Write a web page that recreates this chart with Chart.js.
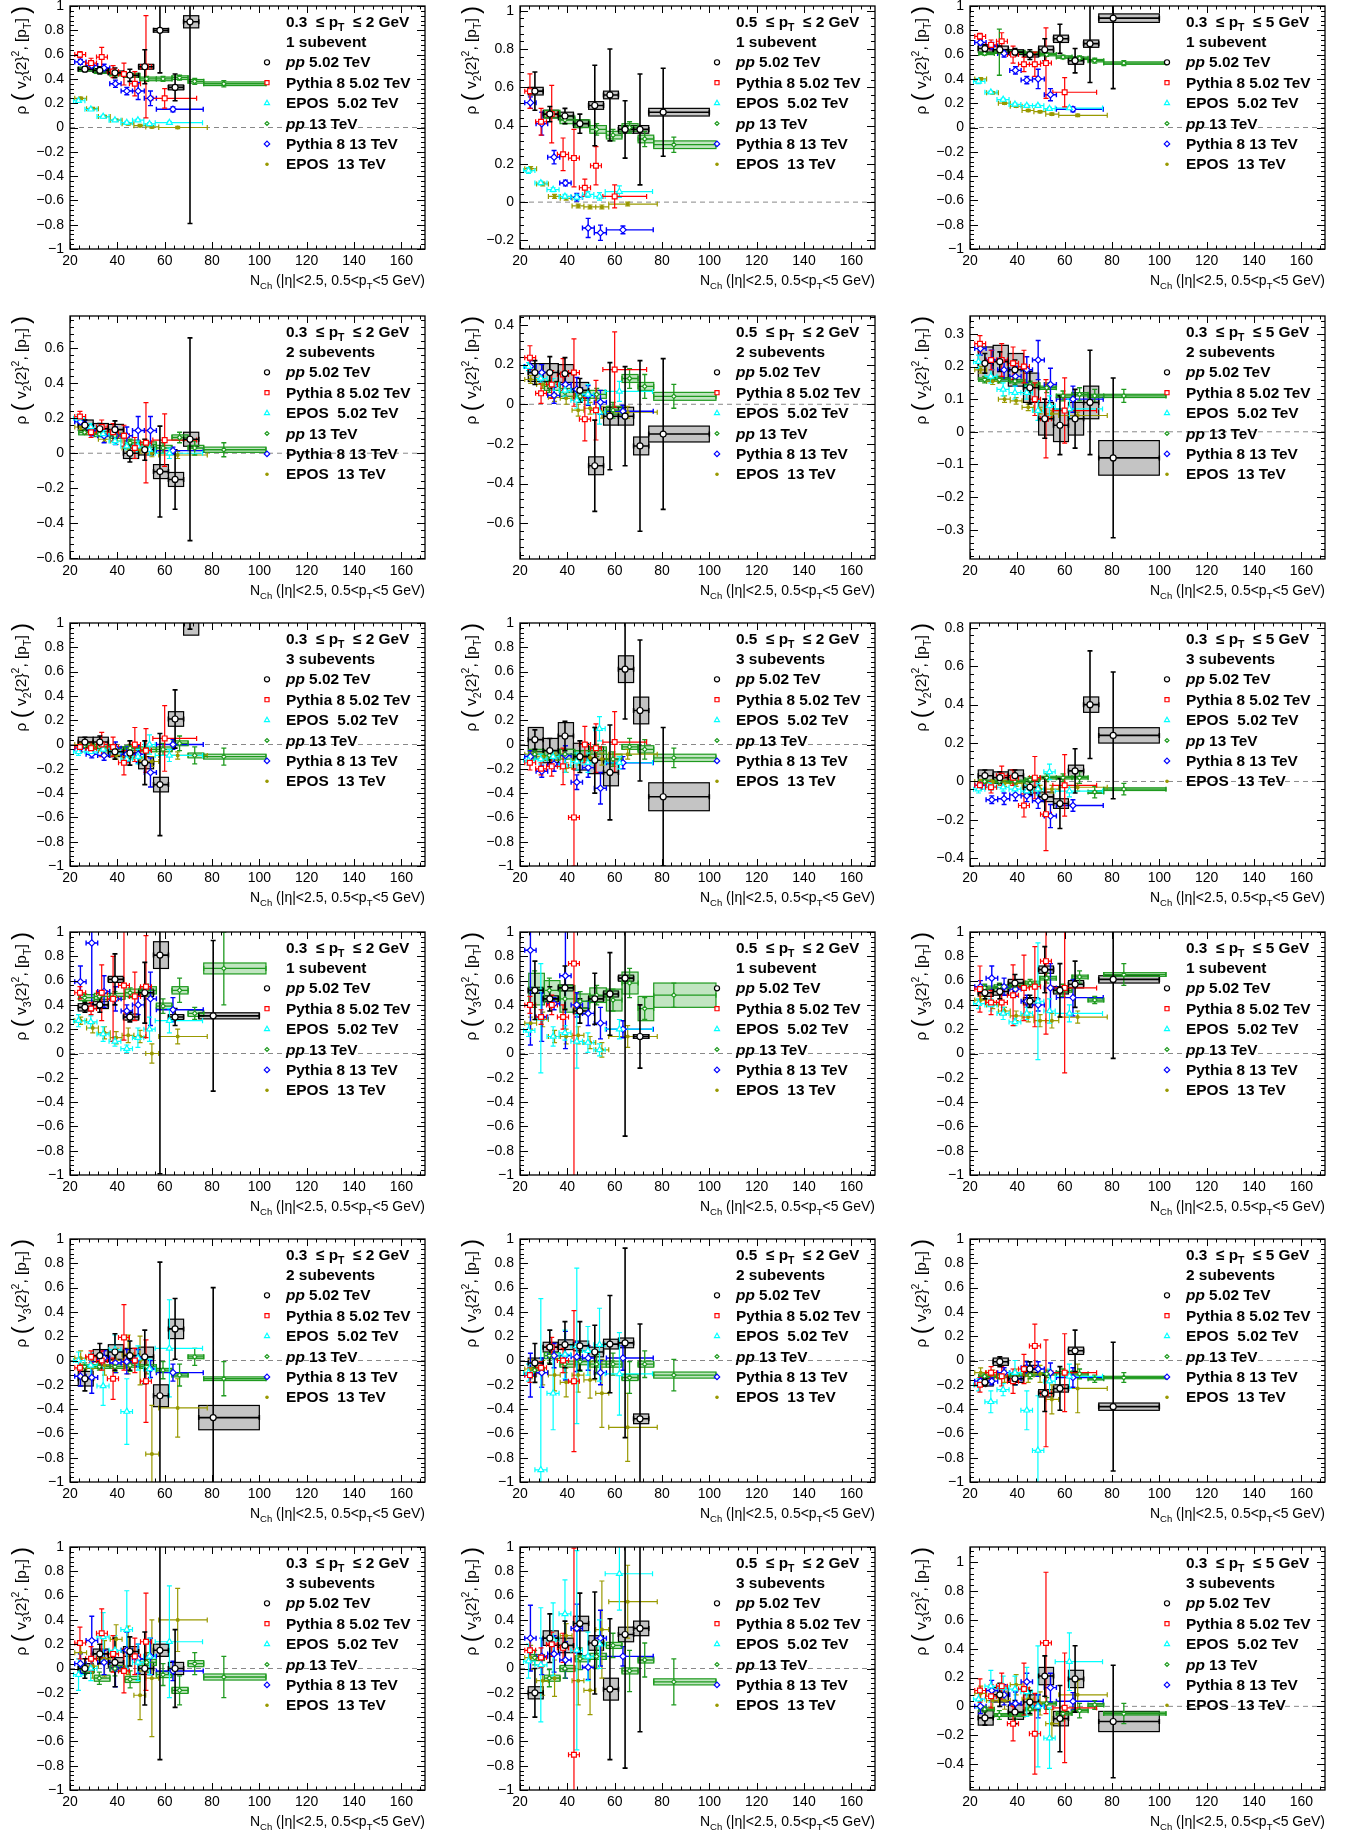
<!DOCTYPE html>
<html>
<head>
<meta charset="utf-8">
<script src="https://cdn.jsdelivr.net/npm/chart.js@4.4.1/dist/chart.umd.min.js"></script>
<style>
  body { margin: 0; background: #fff; }
  #page { position: relative; width: 1354px; height: 1833px; overflow: hidden; }
  #page canvas { position: absolute; }
</style>
</head>
<body>
<div id="page"></div>
<script>
// ---- Nch binning of each sample (centre, low edge, high edge) ----
const nch502 = [26.3, 32.6, 39, 45.3, 51.6, 58, 64.4, 70.7, 80.5];
const nch502Lo = [23.5, 29.8, 36.2, 42.6, 49, 55.3, 61.6, 68, 74.4];
const nch502Hi = [29.8, 36.2, 42.6, 49, 55.3, 61.6, 68, 74.4, 100];
const nch13 = [26.2, 32.4, 39, 45.4, 52.4, 59.3, 66.3, 72.7, 85];
const nch13Lo = [23.7, 30.3, 36.9, 43.2, 49.5, 56.5, 63.1, 69.9, 76.5];
const nch13Hi = [30.3, 36.9, 43.2, 49.5, 56.5, 63.1, 69.9, 76.5, 102.8];
const nchPy5 = [24.2, 28.9, 33.4, 38.2, 42.8, 47.4, 52.1, 60];
const nchPy5Lo = [22, 26.6, 31.2, 35.8, 40.5, 45.1, 49.8, 55];
const nchPy5Hi = [26.6, 31.2, 35.8, 40.5, 45.1, 49.8, 54.4, 73.5];
const nchPy13 = [24.4, 29.2, 34.4, 39.2, 44, 48.8, 54, 63.5];
const nchPy13Lo = [22, 26.8, 31.7, 36.8, 41.6, 46.4, 51.4, 56.5];
const nchPy13Hi = [26.8, 31.7, 36.8, 41.6, 46.4, 51.4, 56.5, 76.3];
const nchEp5 = [23.6, 28.8, 34, 39, 44, 48.7, 53.6, 62];
const nchEp5Lo = [21.5, 26.3, 31.4, 36.5, 41.5, 46.4, 51.2, 56];
const nchEp5Hi = [26.3, 31.4, 36.5, 41.5, 46.4, 51.2, 56, 76];
const nchEp13 = [24.5, 29.6, 34.6, 39.5, 44.6, 49.6, 54.6, 65.5];
const nchEp13Lo = [22, 27, 32, 37, 42, 47, 52, 57.5];
const nchEp13Hi = [27, 32, 37, 42, 47, 52, 57.5, 78];

// ---- panel labels (panel = row*3 + col) ----
const ptLow = ['0.3', '0.5', '0.3'];
const ptHigh = ['2', '2', '5'];
const subLabels = ['1 subevent', '2 subevents', '3 subevents', '1 subevent', '2 subevents', '3 subevents'];
const harmonic = ['2', '2', '2', '3', '3', '3'];
const yMin = [-1, -0.245, -1, -0.605, -0.78, -0.39, -1, -1, -0.44, -1, -1, -1, -1, -1, -1, -1, -1, -0.58];
const yMax = [1, 1.025, 1, 0.785, 0.445, 0.355, 1, 1, 0.825, 1, 1, 1, 1, 1, 1, 1, 1, 1.105];
const yStep = [0.2, 0.2, 0.2, 0.2, 0.2, 0.1, 0.2, 0.2, 0.2, 0.2, 0.2, 0.2, 0.2, 0.2, 0.2, 0.2, 0.2, 0.2];
const xTicks = [20, 40, 60, 80, 100, 120, 140, 160];

// ---- pp 5.02 TeV data: value, stat. error, syst. error ----
const ppVal = [
  [0.48, 0.47, 0.45, 0.43, 0.50, 0.80, 0.33, 0.87, null],
  [0.58, 0.46, 0.45, 0.41, 0.505, 0.56, 0.38, 0.38, 0.47],
  [0.65, 0.64, 0.62, 0.60, 0.64, 0.73, 0.55, 0.69, 0.90],
  [0.16, 0.14, 0.135, 0.0, 0.02, -0.105, -0.15, 0.08, null],
  [0.16, 0.16, 0.155, 0.07, -0.31, -0.06, -0.06, -0.21, -0.15],
  [0.21, 0.215, 0.19, 0.135, 0.04, 0.02, 0.04, 0.09, -0.08],
  [0.02, 0.02, -0.06, -0.07, -0.15, -0.33, 0.21, 1.05, null],
  [0.04, -0.05, 0.07, -0.10, -0.13, -0.23, 0.62, 0.28, -0.43],
  [0.03, 0.02, 0.03, -0.03, -0.08, -0.115, 0.055, 0.40, 0.24],
  [0.38, 0.40, 0.61, 0.30, 0.50, 0.81, 0.30, null, 0.31],
  [0.52, 0.45, 0.54, 0.35, 0.45, 0.49, 0.62, 0.14, null],
  [0.50, 0.51, 0.58, 0.43, 0.69, 0.52, 0.57, null, 0.61],
  [-0.15, 0.04, 0.07, 0.04, 0.03, -0.29, 0.26, null, -0.47],
  [-0.02, 0.11, 0.13, 0.12, 0.07, 0.135, 0.145, -0.48, null],
  [-0.18, -0.01, -0.15, -0.07, -0.27, -0.23, 0.08, null, -0.38],
  [0.0, 0.12, 0.05, 0.14, 0.0, 0.15, 0.0, null, null],
  [-0.2, 0.25, 0.19, 0.37, 0.21, -0.17, 0.28, 0.33, null],
  [-0.08, 0.08, -0.04, 0.03, 0.21, -0.085, 0.19, null, -0.105]
];
const ppErr = [
  [0.02, 0.03, 0.04, 0.05, 0.14, 0.35, 0.11, 1.66, null],
  [0.1, 0.04, 0.04, 0.05, 0.21, 0.24, 0.15, 0.29, 0.23],
  [0.03, 0.03, 0.03, 0.04, 0.09, 0.12, 0.1, 0.32, 0.58],
  [0.03, 0.03, 0.05, 0.05, 0.06, 0.26, 0.17, 0.58, null],
  [0.06, 0.08, 0.08, 0.06, 0.23, 0.27, 0.25, 0.43, 0.38],
  [0.03, 0.03, 0.03, 0.05, 0.06, 0.09, 0.09, 0.16, 0.245],
  [0.04, 0.05, 0.06, 0.1, 0.18, 0.42, 0.24, 0.1, null],
  [0.08, 0.1, 0.12, 0.13, 0.27, 0.39, 0.41, 0.58, 0.57],
  [0.03, 0.03, 0.03, 0.04, 0.1, 0.13, 0.115, 0.28, 0.33],
  [0.04, 0.06, 0.21, 0.04, 0.25, 1.8, 0.07, null, 0.62],
  [0.24, 0.1, 0.18, 0.1, 0.21, 0.34, 1.3, 0.26, null],
  [0.05, 0.06, 0.07, 0.05, 0.19, 0.22, 0.19, null, 0.65],
  [0.1, 0.1, 0.15, 0.12, 0.22, 1.1, 0.25, null, 1.07],
  [0.16, 0.14, 0.19, 0.2, 0.22, 0.4, 0.78, 0.78, null],
  [0.03, 0.04, 0.05, 0.06, 0.15, 0.18, 0.17, null, 0.53],
  [0.08, 0.08, 0.2, 0.12, 0.3, 0.9, 0.32, null, null],
  [0.2, 0.2, 0.2, 0.25, 0.42, 0.58, 1.1, 0.85, null],
  [0.05, 0.08, 0.08, 0.08, 0.14, 0.23, 0.23, null, 0.39]
];
const ppSys = [
  [0.015, 0.015, 0.015, 0.015, 0.02, 0.015, 0.02, 0.05, null],
  [0.02, 0.02, 0.02, 0.02, 0.02, 0.02, 0.02, 0.02, 0.02],
  [0.03, 0.03, 0.02, 0.02, 0.03, 0.03, 0.03, 0.03, 0.035],
  [0.03, 0.03, 0.03, 0.03, 0.03, 0.04, 0.04, 0.04, null],
  [0.045, 0.045, 0.045, 0.04, 0.045, 0.045, 0.045, 0.045, 0.04],
  [0.05, 0.05, 0.05, 0.045, 0.05, 0.05, 0.05, 0.05, 0.053],
  [0.04, 0.04, 0.04, 0.04, 0.05, 0.06, 0.06, 0.15, null],
  [0.1, 0.1, 0.11, 0.11, 0.11, 0.11, 0.11, 0.11, 0.115],
  [0.03, 0.03, 0.03, 0.03, 0.025, 0.025, 0.03, 0.04, 0.04],
  [0.03, 0.03, 0.025, 0.025, 0.03, 0.11, 0.02, null, 0.025],
  [0.025, 0.025, 0.025, 0.025, 0.025, 0.025, 0.025, 0.015, null],
  [0.03, 0.03, 0.03, 0.03, 0.03, 0.03, 0.03, null, 0.03],
  [0.06, 0.05, 0.06, 0.06, 0.08, 0.09, 0.08, null, 0.1],
  [0.04, 0.04, 0.04, 0.04, 0.04, 0.04, 0.04, 0.04, null],
  [0.03, 0.03, 0.03, 0.03, 0.03, 0.03, 0.03, null, 0.03],
  [0.04, 0.04, 0.04, 0.04, 0.05, 0.05, 0.05, null, null],
  [0.05, 0.06, 0.06, 0.06, 0.06, 0.09, 0.06, 0.06, null],
  [0.05, 0.05, 0.05, 0.05, 0.06, 0.05, 0.06, null, 0.07]
];

// ---- pp 13 TeV data ----
const pp13Val = [
  [0.48, 0.46, 0.44, 0.43, 0.40, 0.40, 0.41, 0.38, 0.36],
  [null, 0.46, 0.43, 0.41, 0.38, 0.35, 0.39, 0.33, 0.30],
  [0.61, 0.62, 0.62, 0.61, 0.60, 0.58, 0.57, 0.55, 0.53],
  [0.12, 0.11, 0.10, 0.06, 0.05, 0.03, 0.09, 0.03, 0.02],
  [null, 0.09, 0.06, 0.04, 0.05, -0.03, 0.13, 0.09, 0.04],
  [0.16, 0.16, 0.155, 0.145, 0.135, 0.11, 0.115, 0.11, 0.11],
  [-0.01, -0.02, -0.04, -0.03, -0.04, -0.04, 0.01, -0.09, -0.10],
  [-0.08, -0.09, -0.08, -0.09, -0.05, -0.12, -0.02, -0.04, -0.11],
  [0.0, 0.0, 0.0, 0.01, 0.02, 0.02, 0.02, -0.055, -0.04],
  [0.46, 0.47, 0.47, 0.50, 0.52, 0.39, 0.52, 0.33, 0.70],
  [0.53, 0.52, 0.45, 0.43, 0.48, 0.44, 0.58, 0.37, 0.48],
  [0.54, 0.55, 0.56, 0.58, 0.62, 0.52, 0.63, 0.44, 0.65],
  [-0.05, -0.05, -0.05, -0.04, -0.05, -0.08, -0.12, 0.03, -0.15],
  [-0.08, 0.04, -0.03, -0.01, -0.03, -0.03, -0.14, -0.03, -0.12],
  [-0.13, -0.13, -0.12, -0.12, -0.11, -0.10, -0.11, -0.15, -0.14],
  [-0.01, -0.08, 0.0, -0.09, 0.05, -0.05, -0.18, 0.04, -0.07],
  [0.09, -0.08, 0.0, 0.08, 0.1, 0.19, -0.02, 0.07, -0.11],
  [-0.02, -0.06, -0.06, -0.02, 0.02, -0.05, -0.03, 0.01, -0.05]
];
const pp13Err = [
  [0.01, 0.01, 0.015, 0.015, 0.02, 0.02, 0.02, 0.025, 0.025],
  [null, 0.02, 0.02, 0.02, 0.03, 0.03, 0.03, 0.04, 0.04],
  [0.015, 0.19, 0.015, 0.015, 0.015, 0.015, 0.02, 0.02, 0.02],
  [0.01, 0.01, 0.02, 0.02, 0.02, 0.03, 0.03, 0.04, 0.04],
  [null, 0.03, 0.03, 0.03, 0.03, 0.04, 0.05, 0.06, 0.06],
  [0.01, 0.01, 0.01, 0.01, 0.015, 0.015, 0.02, 0.02, 0.02],
  [0.02, 0.02, 0.02, 0.03, 0.04, 0.05, 0.06, 0.07, 0.07],
  [0.03, 0.03, 0.04, 0.04, 0.05, 0.06, 0.07, 0.08, 0.08],
  [0.01, 0.01, 0.015, 0.015, 0.02, 0.02, 0.03, 0.03, 0.03],
  [0.03, 0.03, 0.04, 0.04, 0.05, 0.06, 0.1, 0.05, 0.3],
  [0.15, 0.1, 0.08, 0.08, 0.08, 0.09, 0.12, 0.09, 0.1],
  [0.03, 0.03, 0.03, 0.03, 0.04, 0.05, 0.05, 0.03, 0.09],
  [0.03, 0.03, 0.04, 0.05, 0.06, 0.07, 0.09, 0.07, 0.14],
  [0.05, 0.06, 0.07, 0.08, 0.08, 0.09, 0.13, 0.11, 0.13],
  [0.02, 0.02, 0.02, 0.03, 0.03, 0.03, 0.04, 0.03, 0.04],
  [0.04, 0.05, 0.06, 0.07, 0.08, 0.09, 0.12, 0.09, 0.17],
  [0.06, 0.07, 0.08, 0.09, 0.1, 0.1, 0.17, 0.14, 0.19],
  [0.02, 0.03, 0.03, 0.04, 0.04, 0.05, 0.05, 0.03, 0.07]
];
const pp13Sys = [
  [0.015, 0.015, 0.015, 0.015, 0.015, 0.015, 0.015, 0.015, 0.015],
  [0.02, 0.02, 0.02, 0.02, 0.02, 0.02, 0.02, 0.02, 0.02],
  [0.01, 0.01, 0.01, 0.01, 0.01, 0.01, 0.01, 0.01, 0.01],
  [0.015, 0.015, 0.015, 0.015, 0.015, 0.015, 0.015, 0.015, 0.015],
  [0.02, 0.02, 0.02, 0.02, 0.02, 0.02, 0.02, 0.02, 0.02],
  [0.005, 0.005, 0.005, 0.005, 0.005, 0.005, 0.005, 0.005, 0.005],
  [0.02, 0.02, 0.02, 0.02, 0.02, 0.02, 0.02, 0.02, 0.02],
  [0.04, 0.04, 0.04, 0.04, 0.03, 0.04, 0.02, 0.03, 0.03],
  [0.007, 0.007, 0.007, 0.007, 0.007, 0.007, 0.007, 0.007, 0.007],
  [0.025, 0.025, 0.025, 0.03, 0.03, 0.025, 0.03, 0.025, 0.045],
  [0.13, 0.08, 0.11, 0.06, 0.06, 0.09, 0.09, 0.1, 0.1],
  [0.015, 0.015, 0.015, 0.015, 0.015, 0.015, 0.015, 0.015, 0.015],
  [0.015, 0.015, 0.015, 0.015, 0.015, 0.015, 0.015, 0.015, 0.015],
  [0.025, 0.025, 0.025, 0.025, 0.025, 0.025, 0.025, 0.025, 0.025],
  [0.01, 0.01, 0.01, 0.01, 0.01, 0.01, 0.01, 0.01, 0.01],
  [0.025, 0.025, 0.025, 0.025, 0.025, 0.025, 0.025, 0.025, 0.025],
  [0.025, 0.025, 0.025, 0.025, 0.025, 0.025, 0.025, 0.025, 0.025],
  [0.01, 0.01, 0.01, 0.01, 0.01, 0.01, 0.01, 0.01, 0.01]
];

// ---- Pythia 8 5.02 TeV ----
const py5Val = [
  [0.60, 0.53, 0.58, 0.46, 0.44, 0.36, 0.50, 0.24],
  [0.58, 0.42, 0.46, 0.25, 0.23, 0.075, 0.19, 0.03],
  [0.75, 0.68, 0.71, 0.60, 0.52, 0.52, 0.53, 0.29],
  [0.21, 0.12, 0.15, 0.12, 0.10, 0.03, 0.06, 0.075],
  [0.235, 0.055, 0.10, 0.15, 0.16, -0.075, -0.03, 0.175],
  [0.27, 0.22, 0.22, 0.21, 0.20, 0.10, 0.04, 0.065],
  [-0.02, -0.03, 0.0, -0.02, -0.15, 0.0, -0.05, 0.05],
  [-0.15, -0.2, -0.18, -0.18, -0.6, 0.0, -0.03, 0.02],
  [-0.02, -0.03, 0.03, 0.02, -0.125, 0.02, -0.17, -0.02],
  [0.50, 0.37, 0.50, 0.45, 0.56, 0.47, 0.55, null],
  [0.40, 0.30, 0.40, 0.30, 0.74, null, null, null],
  [0.53, 0.42, 0.42, 0.48, 0.54, 0.55, 0.76, 0.54],
  [-0.06, 0.03, 0.0, -0.15, 0.19, 0.0, -0.17, null],
  [-0.12, -0.06, 0.11, 0.0, -0.17, null, null, null],
  [-0.2, -0.1, -0.13, -0.17, -0.07, 0.12, -0.27, -0.1],
  [0.21, 0.08, 0.29, 0.12, -0.02, 0.1, 0.22, null],
  [0.15, 0.09, 0.2, 0.17, -0.71, null, null, null],
  [0.11, 0.07, 0.14, -0.12, 0.12, -0.19, 0.44, -0.01]
];
const py5Err = [
  [0.025, 0.04, 0.08, 0.05, 0.09, 0.1, 0.42, 0.08],
  [0.09, 0.07, 0.15, 0.085, 0.15, 0.045, 0.1, 0.06],
  [0.025, 0.04, 0.07, 0.07, 0.06, 0.1, 0.29, 0.12],
  [0.03, 0.03, 0.04, 0.05, 0.06, 0.06, 0.23, 0.15],
  [0.06, 0.05, 0.07, 0.08, 0.17, 0.11, 0.15, 0.19],
  [0.025, 0.03, 0.05, 0.05, 0.05, 0.05, 0.12, 0.1],
  [0.04, 0.05, 0.1, 0.08, 0.1, 0.14, 0.18, 0.27],
  [0.06, 0.05, 0.08, 0.15, 0.4, 0.15, 0.2, 0.25],
  [0.02, 0.03, 0.05, 0.04, 0.06, 0.11, 0.19, 0.16],
  [0.05, 0.05, 0.23, 0.35, 0.45, 0.2, 0.42, null],
  [0.07, 0.06, 0.08, 0.1, 1.9, null, null, null],
  [0.19, 0.1, 0.1, 0.25, 0.27, 0.33, 0.6, 0.7],
  [0.07, 0.05, 0.08, 0.17, 0.27, 0.1, 0.34, null],
  [0.06, 0.05, 0.08, 0.1, 0.58, null, null, null],
  [0.06, 0.05, 0.08, 0.1, 0.12, 0.18, 0.44, 0.32],
  [0.13, 0.1, 0.2, 0.15, 0.18, 0.15, 0.4, null],
  [0.1, 0.08, 0.1, 0.12, 1.7, null, null, null],
  [0.08, 0.08, 0.09, 0.12, 0.18, 0.28, 0.49, 0.38]
];

// ---- EPOS 5.02 TeV ----
const ep5Val = [
  [0.22, 0.15, 0.09, 0.06, 0.04, 0.06, 0.03, 0.04],
  [0.165, 0.10, 0.065, 0.03, 0.025, 0.04, 0.03, 0.055],
  [0.38, 0.29, 0.23, 0.19, 0.18, 0.18, 0.155, 0.16],
  [0.20, 0.15, 0.11, 0.07, 0.04, 0.04, 0.02, 0.0],
  [0.19, 0.13, 0.10, 0.07, 0.02, 0.05, -0.04, 0.065],
  [0.215, 0.17, 0.13, 0.12, 0.12, 0.065, 0.08, 0.07],
  [-0.06, -0.06, -0.04, -0.06, -0.12, -0.1, 0.0, -0.09],
  [-0.13, -0.12, -0.1, -0.17, -0.14, -0.15, 0.13, -0.15],
  [-0.04, -0.025, -0.03, -0.04, -0.05, -0.04, 0.05, -0.05],
  [0.27, 0.26, 0.16, 0.10, 0.04, 0.13, 0.2, 0.27],
  [0.19, 0.29, 0.14, 0.17, 0.10, 0.09, 0.03, 0.20],
  [0.41, 0.40, 0.33, 0.26, 0.33, 0.43, 0.35, 0.33],
  [0.0, -0.04, -0.21, 0.09, -0.42, 0.02, -0.07, 0.10],
  [-0.1, -0.9, -0.27, 0.05, 0.12, 0.08, 0.13, -0.11],
  [-0.2, -0.34, -0.24, -0.1, -0.41, -0.74, -0.17, -0.13],
  [-0.05, 0.0, 0.26, 0.15, 0.32, 0.05, 0.1, 0.22],
  [0.06, 0.03, 0.24, 0.45, 0.15, 0.1, 0.2, 0.78],
  [0.05, 0.14, 0.13, 0.12, 0.1, 0.0, -0.22, 0.31]
];
const ep5Err = [
  [0.01, 0.01, 0.01, 0.01, 0.01, 0.01, 0.01, 0.01],
  [0.015, 0.01, 0.01, 0.01, 0.015, 0.015, 0.02, 0.03],
  [0.02, 0.01, 0.01, 0.01, 0.01, 0.01, 0.01, 0.01],
  [0.02, 0.02, 0.02, 0.02, 0.02, 0.03, 0.03, 0.03],
  [0.02, 0.02, 0.03, 0.03, 0.04, 0.05, 0.06, 0.05],
  [0.02, 0.02, 0.02, 0.02, 0.02, 0.03, 0.03, 0.03],
  [0.03, 0.03, 0.03, 0.04, 0.05, 0.06, 0.08, 0.05],
  [0.04, 0.04, 0.05, 0.06, 0.07, 0.08, 0.1, 0.05],
  [0.02, 0.02, 0.02, 0.02, 0.03, 0.03, 0.04, 0.03],
  [0.05, 0.05, 0.06, 0.04, 0.03, 0.08, 0.1, 0.1],
  [0.05, 0.45, 0.08, 0.06, 0.22, 0.08, 0.05, 0.08],
  [0.04, 0.05, 0.05, 0.03, 0.05, 0.48, 0.1, 0.07],
  [0.07, 0.1, 0.16, 0.12, 0.27, 0.1, 0.08, 0.4],
  [0.07, 1.41, 0.3, 0.2, 0.64, 0.2, 0.3, 0.34],
  [0.05, 0.09, 0.05, 0.1, 0.16, 0.45, 0.1, 0.1],
  [0.13, 0.1, 0.2, 0.12, 0.32, 0.15, 0.15, 0.46],
  [0.14, 0.47, 0.3, 0.28, 0.82, 0.2, 0.2, 0.3],
  [0.06, 0.11, 0.08, 0.09, 0.17, 0.42, 0.21, 0.2]
];

// ---- Pythia 8 13 TeV ----
const py13Val = [
  [0.54, 0.51, 0.49, 0.36, 0.30, 0.30, 0.24, 0.15],
  [0.52, 0.41, 0.235, 0.10, 0.025, -0.135, -0.16, -0.145],
  [0.70, 0.67, 0.61, 0.47, 0.39, 0.40, 0.27, 0.15],
  [0.18, 0.13, 0.10, 0.10, 0.10, 0.13, 0.13, 0.015],
  [0.19, 0.16, 0.045, 0.10, 0.075, 0.045, 0.01, -0.035],
  [0.255, 0.22, 0.19, 0.17, 0.19, 0.22, 0.145, 0.10],
  [-0.03, -0.08, -0.09, -0.03, -0.08, -0.08, -0.23, 0.0],
  [-0.1, -0.22, -0.16, -0.09, -0.31, -0.19, -0.36, -0.15],
  [-0.02, -0.095, -0.09, -0.07, -0.075, -0.10, -0.18, -0.125],
  [0.59, 0.91, 0.51, 0.45, 0.35, 0.40, 0.45, 0.36],
  [0.85, 0.30, 0.41, 0.64, 0.40, 0.33, 0.25, 0.20],
  [0.55, 0.62, 0.55, 0.53, 0.43, 0.40, 0.54, 0.46],
  [-0.13, -0.14, 0.02, -0.02, -0.01, 0.02, -0.07, -0.1],
  [-0.12, -0.1, 0.04, 0.04, 0.03, 0.02, -0.1, 0.02],
  [-0.17, -0.17, -0.1, -0.15, -0.06, -0.07, -0.1, -0.14],
  [0.04, 0.23, 0.05, 0.0, 0.15, 0.08, 0.1, -0.02],
  [0.25, 0.1, 0.12, 0.07, 0.33, 0.01, 0.25, 0.1],
  [0.0, 0.11, 0.08, 0.02, 0.17, 0.0, 0.13, 0.035]
];
const py13Err = [
  [0.02, 0.03, 0.03, 0.03, 0.03, 0.07, 0.06, 0.02],
  [0.03, 0.06, 0.035, 0.015, 0.02, 0.05, 0.04, 0.02],
  [0.02, 0.03, 0.03, 0.03, 0.03, 0.08, 0.05, 0.02],
  [0.02, 0.03, 0.04, 0.05, 0.05, 0.08, 0.08, 0.02],
  [0.03, 0.04, 0.04, 0.06, 0.06, 0.05, 0.06, 0.03],
  [0.02, 0.03, 0.03, 0.03, 0.04, 0.06, 0.05, 0.04],
  [0.03, 0.03, 0.04, 0.05, 0.06, 0.07, 0.12, 0.04],
  [0.05, 0.05, 0.06, 0.08, 0.06, 0.08, 0.13, 0.05],
  [0.02, 0.02, 0.03, 0.03, 0.03, 0.04, 0.06, 0.03],
  [0.13, 0.55, 0.13, 0.1, 0.05, 0.08, 0.22, 0.1],
  [0.78, 0.2, 0.05, 0.6, 0.1, 0.1, 0.13, 0.07],
  [0.05, 0.1, 0.07, 0.06, 0.05, 0.05, 0.2, 0.15],
  [0.08, 0.13, 0.06, 0.08, 0.1, 0.07, 0.07, 0.07],
  [0.18, 0.12, 0.1, 0.2, 0.12, 0.1, 0.1, 0.1],
  [0.03, 0.03, 0.04, 0.05, 0.05, 0.06, 0.08, 0.08],
  [0.08, 0.2, 0.1, 0.15, 0.15, 0.12, 0.15, 0.08],
  [0.27, 0.15, 0.15, 0.15, 0.2, 0.1, 0.23, 0.08],
  [0.05, 0.07, 0.07, 0.08, 0.06, 0.08, 0.1, 0.06]
];

// ---- EPOS 13 TeV ----
const ep13Val = [
  [0.24, 0.155, 0.09, 0.06, 0.03, 0.015, 0.005, 0.0],
  [0.175, 0.095, 0.03, 0.02, -0.02, -0.025, -0.025, -0.01],
  [0.40, 0.285, 0.20, 0.175, 0.14, 0.13, 0.11, 0.10],
  [0.15, 0.12, 0.08, 0.07, 0.03, 0.02, 0.0, -0.01],
  [0.125, 0.10, 0.035, 0.03, -0.03, -0.02, -0.04, -0.04],
  [0.19, 0.155, 0.10, 0.095, 0.075, 0.065, 0.055, 0.05],
  [0.0, -0.02, -0.05, -0.09, -0.1, -0.11, -0.14, -0.09],
  [-0.08, -0.1, -0.1, -0.19, -0.13, -0.11, -0.12, -0.08],
  [0.0, 0.0, -0.01, -0.01, -0.03, -0.04, -0.04, -0.03],
  [0.27, 0.21, 0.17, 0.13, 0.15, 0.14, 0.0, 0.14],
  [0.25, 0.28, 0.14, 0.14, 0.15, 0.09, 0.03, 0.14],
  [0.44, 0.40, 0.35, 0.31, 0.30, 0.27, 0.27, 0.30],
  [0.02, -0.06, -0.04, 0.0, 0.05, 0.0, -0.77, -0.39],
  [-0.07, -0.1, -0.12, -0.18, -0.12, -0.16, -0.27, -0.55],
  [-0.1, -0.12, -0.13, -0.12, -0.12, -0.11, -0.32, -0.23],
  [0.13, 0.02, 0.08, 0.24, 0.15, -0.22, -0.08, 0.4],
  [0.09, -0.1, -0.08, 0.27, -0.1, -0.18, 0.32, 0.55],
  [0.09, 0.04, 0.04, 0.15, 0.05, 0.02, -0.12, 0.08]
];
const ep13Err = [
  [0.01, 0.01, 0.01, 0.01, 0.01, 0.01, 0.01, 0.01],
  [0.01, 0.01, 0.01, 0.01, 0.01, 0.01, 0.01, 0.01],
  [0.01, 0.01, 0.01, 0.01, 0.01, 0.01, 0.01, 0.01],
  [0.015, 0.015, 0.015, 0.02, 0.02, 0.02, 0.02, 0.02],
  [0.02, 0.02, 0.02, 0.03, 0.03, 0.03, 0.03, 0.03],
  [0.01, 0.01, 0.01, 0.01, 0.01, 0.01, 0.01, 0.01],
  [0.02, 0.02, 0.02, 0.03, 0.03, 0.03, 0.04, 0.03],
  [0.03, 0.03, 0.03, 0.04, 0.04, 0.04, 0.05, 0.04],
  [0.01, 0.01, 0.015, 0.015, 0.015, 0.02, 0.02, 0.02],
  [0.03, 0.04, 0.05, 0.05, 0.06, 0.05, 0.08, 0.06],
  [0.05, 0.06, 0.05, 0.06, 0.07, 0.05, 0.06, 0.09],
  [0.03, 0.03, 0.03, 0.04, 0.04, 0.05, 0.06, 0.05],
  [0.06, 0.1, 0.08, 0.1, 0.16, 0.2, 0.4, 0.24],
  [0.08, 0.1, 0.13, 0.12, 0.14, 0.15, 0.28, 0.28],
  [0.04, 0.04, 0.05, 0.05, 0.06, 0.07, 0.12, 0.2],
  [0.08, 0.1, 0.15, 0.12, 0.2, 0.2, 0.48, 0.26],
  [0.1, 0.12, 0.15, 0.1, 0.2, 0.2, 0.4, 0.3],
  [0.05, 0.06, 0.06, 0.07, 0.08, 0.08, 0.1, 0.1]
];

// ---- drawing ----
const FONT = '"Liberation Sans", Arial, Helvetica, sans-serif';
const plotLefts = [70, 520, 970];
const plotTops = [6, 316, 623, 932, 1239, 1547];
const PLOT_W = 355, PLOT_H = 243, CANVAS_W = 445, CANVAS_H = 300;

const seriesStyle = [
  { name: [['pp', 'it'], [' 5.02 TeV', '']], color: '#000000', pointStyle: 'circle', radius: 3, fill: '#ffffff', bar: 1.6, box: '#c4c4c4' },
  { name: [['Pythia 8 5.02 TeV', '']], color: '#ff0000', pointStyle: 'rect', radius: 3.4, fill: '#ffffff', bar: 1.2 },
  { name: [['EPOS  5.02 TeV', '']], color: '#00ffff', pointStyle: 'triangle', radius: 3.4, fill: '#ffffff', bar: 1.2 },
  { name: [['pp', 'it'], [' 13 TeV', '']], color: '#1f9a1f', pointStyle: 'rectRot', radius: 2.3, fill: '#ffffff', bar: 1.3, box: 'rgba(31,160,31,0.28)' },
  { name: [['Pythia 8 13 TeV', '']], color: '#0000ff', pointStyle: 'rectRot', radius: 3.2, fill: '#ffffff', bar: 1.4 },
  { name: [['EPOS  13 TeV', '']], color: '#999900', pointStyle: 'circle', radius: 1.4, fill: '#999900', bar: 1.2 }
];

function fmt(v) {
  const r = Math.round(v * 10) / 10;
  return String(r).replace('-', '\u2212');
}

function richText(ctx, parts, x, y, size, bold, align) {
  const fontFor = k => {
    let s = size, st = '';
    if (k === 'sub' || k === 'sup') s = size * 0.68;
    if (k === 'big') s = size * 1.55;
    if (k === 'it') st = 'italic ';
    return st + (bold ? 'bold ' : '') + s + 'px ' + FONT;
  };
  let w = 0;
  parts.forEach(p => { ctx.font = fontFor(p[1]); w += ctx.measureText(p[0]).width; });
  let cx = align === 'right' ? x - w : x;
  parts.forEach(p => {
    ctx.font = fontFor(p[1]);
    let dy = 0;
    if (p[1] === 'sub') dy = size * 0.32;
    if (p[1] === 'sup') dy = -size * 0.42;
    if (p[1] === 'big') dy = size * 0.18;
    ctx.fillText(p[0], cx, y + dy);
    cx += ctx.measureText(p[0]).width;
  });
}

function makeData(xs, lo, hi, ys, es, ss) {
  const out = [];
  xs.forEach((x, i) => {
    if (ys[i] === null || ys[i] === undefined) return;
    out.push({ x: x, y: ys[i], lo: lo[i], hi: hi[i], e: es[i] || 0, s: ss ? ss[i] : null });
  });
  return out;
}

const errorBars = {
  id: 'errorBars',
  beforeDatasetsDraw(chart) {
    const { ctx, chartArea: a, scales: { x, y } } = chart;
    ctx.save();
    ctx.beginPath();
    ctx.rect(a.left, a.top, a.width, a.height);
    ctx.clip();
    // dashed zero line
    const y0 = y.getPixelForValue(0);
    ctx.setLineDash([5, 4]);
    ctx.strokeStyle = '#888';
    ctx.lineWidth = 1;
    ctx.beginPath(); ctx.moveTo(a.left, y0); ctx.lineTo(a.right, y0); ctx.stroke();
    ctx.setLineDash([]);
    const sets = chart.data.datasets;
    // systematic boxes
    sets.forEach(ds => {
      if (!ds.boxFill) return;
      ds.data.forEach(d => {
        const l = x.getPixelForValue(d.lo), r = x.getPixelForValue(d.hi);
        const t = y.getPixelForValue(d.y + d.s), b = y.getPixelForValue(d.y - d.s);
        ctx.fillStyle = ds.boxFill;
        ctx.fillRect(l, t, r - l, b - t);
        ctx.strokeStyle = ds.borderColor;
        ctx.lineWidth = 1.2;
        ctx.strokeRect(l, t, r - l, b - t);
      });
    });
    // statistical error bars, drawn bottom dataset first
    for (let k = sets.length - 1; k >= 0; k--) {
      const ds = sets[k];
      ctx.strokeStyle = ds.borderColor;
      ctx.lineWidth = ds.barWidth;
      ctx.beginPath();
      ds.data.forEach(d => {
        const px = x.getPixelForValue(d.x), py = y.getPixelForValue(d.y);
        const l = x.getPixelForValue(d.lo), r = x.getPixelForValue(d.hi);
        const t = y.getPixelForValue(d.y + d.e), b = y.getPixelForValue(d.y - d.e);
        const c = 2.5;
        ctx.moveTo(l, py); ctx.lineTo(r, py);
        ctx.moveTo(px, t); ctx.lineTo(px, b);
        ctx.moveTo(l, py - c); ctx.lineTo(l, py + c);
        ctx.moveTo(r, py - c); ctx.lineTo(r, py + c);
        ctx.moveTo(px - c, t); ctx.lineTo(px + c, t);
        ctx.moveTo(px - c, b); ctx.lineTo(px + c, b);
      });
      ctx.stroke();
    }
    ctx.restore();
  }
};

const frameAndText = {
  id: 'frameAndText',
  afterDraw(chart) {
    const { ctx, chartArea: a, scales: { x, y } } = chart;
    const p = chart.options.panel;
    const row = Math.floor(p / 3), col = p % 3;
    ctx.save();
    // frame + inward ticks on all sides
    ctx.strokeStyle = '#000';
    ctx.lineWidth = 1.3;
    ctx.strokeRect(a.left, a.top, a.width, a.height);
    ctx.lineWidth = 1;
    ctx.beginPath();
    for (let v = 20; v <= 170.001; v += 4) {
      const px = Math.round(x.getPixelForValue(v)) + 0.5;
      const len = (Math.round(v) - 20) % 20 === 0 ? 7 : 3.5;
      ctx.moveTo(px, a.bottom); ctx.lineTo(px, a.bottom - len);
      ctx.moveTo(px, a.top); ctx.lineTo(px, a.top + len);
    }
    const minor = yStep[p] / 5;
    for (let k = Math.ceil(yMin[p] / minor - 1e-6); k * minor <= yMax[p] + 1e-6; k++) {
      const v = k * minor;
      const py = Math.round(y.getPixelForValue(v)) + 0.5;
      const len = k % 5 === 0 ? 8 : 4;
      ctx.moveTo(a.left, py); ctx.lineTo(a.left + len, py);
      ctx.moveTo(a.right, py); ctx.lineTo(a.right - len, py);
    }
    ctx.stroke();

    ctx.fillStyle = '#000';
    ctx.textBaseline = 'alphabetic';
    // x axis title
    richText(ctx, [['N', ''], ['Ch', 'sub'], [' (|\u03b7|<2.5, 0.5<p', ''], ['T', 'sub'], ['<5 GeV)', '']],
      a.right, a.bottom + 36, 14, false, 'right');
    // y axis title (rotated, ending at the top of the frame)
    ctx.save();
    ctx.translate(a.left - 44, a.top);
    ctx.rotate(-Math.PI / 2);
    richText(ctx, [['\u03c1 ', ''], ['(', 'big'], [' v', ''], [harmonic[row], 'sub'], ['{2}', ''], ['2', 'sup'],
      [', [p', ''], ['T', 'sub'], ['] ', ''], [')', 'big']], 0, 0, 15.5, false, 'right');
    ctx.restore();

    // legend
    const tx = a.left + 216, mx = a.left + 197, step = 20.4;
    let base = a.top + 20.5;
    richText(ctx, [[ptLow[col] + '  ', ''], ['\u2264', ''], [' p', ''], ['T', 'sub'], ['  \u2264', ''], [' ' + ptHigh[col] + ' GeV', '']],
      tx, base, 15.4, true, 'left');
    base += step;
    richText(ctx, [[subLabels[row], '']], tx, base, 15.4, true, 'left');
    seriesStyle.forEach(st => {
      base += step;
      ctx.fillStyle = st.fill;
      ctx.strokeStyle = st.color;
      ctx.lineWidth = 1.2;
      Chart.helpers.drawPoint(ctx, { pointStyle: st.pointStyle, radius: st.radius * 0.85, rotation: 0, borderWidth: 1.2 }, mx, base - 5);
      ctx.fillStyle = '#000';
      richText(ctx, st.name, tx, base, 15.4, true, 'left');
    });
    ctx.restore();
  }
};

const page = document.getElementById('page');
for (let p = 0; p < 18; p++) {
  const row = Math.floor(p / 3), col = p % 3;
  const cv = document.createElement('canvas');
  cv.width = CANVAS_W; cv.height = CANVAS_H;
  cv.style.left = (plotLefts[col] - 70) + 'px';
  cv.style.top = (plotTops[row] - 6) + 'px';
  page.appendChild(cv);

  const series = [
    makeData(nch502, nch502Lo, nch502Hi, ppVal[p], ppErr[p], ppSys[p]),
    makeData(nchPy5, nchPy5Lo, nchPy5Hi, py5Val[p], py5Err[p]),
    makeData(nchEp5, nchEp5Lo, nchEp5Hi, ep5Val[p], ep5Err[p]),
    makeData(nch13, nch13Lo, nch13Hi, pp13Val[p], pp13Err[p], pp13Sys[p]),
    makeData(nchPy13, nchPy13Lo, nchPy13Hi, py13Val[p], py13Err[p]),
    makeData(nchEp13, nchEp13Lo, nchEp13Hi, ep13Val[p], ep13Err[p])
  ];
  const datasets = series.map((data, i) => {
    const st = seriesStyle[i];
    return {
      data: data,
      showLine: false,
      clip: 0,
      borderColor: st.color,
      pointStyle: st.pointStyle,
      pointRadius: st.radius,
      pointBorderColor: st.color,
      pointBackgroundColor: st.fill,
      pointBorderWidth: 1.2,
      barWidth: st.bar,
      boxFill: st.box || null
    };
  });
  const yTicks = [];
  for (let k = Math.ceil(yMin[p] / yStep[p] - 1e-6); k * yStep[p] <= yMax[p] + 1e-6; k++) {
    yTicks.push(Math.round(k * yStep[p] * 1000) / 1000);
  }

  new Chart(cv.getContext('2d'), {
    type: 'scatter',
    data: { datasets: datasets },
    options: {
      panel: p,
      responsive: false,
      animation: false,
      devicePixelRatio: 1,
      events: [],
      layout: { padding: { left: 0, top: 6, right: CANVAS_W - 70 - PLOT_W, bottom: 0 } },
      plugins: { legend: { display: false }, tooltip: { enabled: false } },
      scales: {
        x: {
          type: 'linear', min: 20, max: 170,
          grid: { display: false, drawTicks: false },
          border: { display: false },
          ticks: { color: '#000', font: { family: FONT, size: 14 }, padding: 4, maxRotation: 0, autoSkip: false, callback: v => String(v) },
          afterBuildTicks: s => { s.ticks = xTicks.map(v => ({ value: v })); },
          afterFit: s => { s.height = CANVAS_H - 6 - PLOT_H; s.paddingLeft = 0; s.paddingRight = 0; }
        },
        y: {
          type: 'linear', min: yMin[p], max: yMax[p],
          grid: { display: false, drawTicks: false },
          border: { display: false },
          ticks: { color: '#000', font: { family: FONT, size: 14 }, padding: 6, autoSkip: false, callback: v => fmt(v) },
          afterBuildTicks: s => { s.ticks = yTicks.map(v => ({ value: v })); },
          afterFit: s => { s.width = 70; s.paddingTop = 0; s.paddingBottom = 0; }
        }
      }
    },
    plugins: [errorBars, frameAndText]
  });
}
</script>
</body>
</html>
